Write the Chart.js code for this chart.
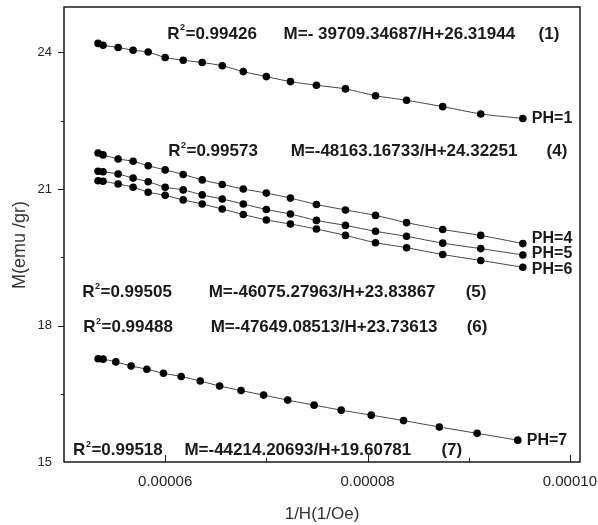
<!DOCTYPE html>
<html>
<head>
<meta charset="utf-8">
<script src="https://cdn.jsdelivr.net/npm/chart.js@4.4.1/dist/chart.umd.min.js"></script>
<style>
  html, body { margin: 0; padding: 0; background: #fff; }
  #wrap { width: 598px; height: 525px; }
</style>
</head>
<body>
<div id="wrap"><canvas id="mhChart" width="598" height="525"></canvas></div>
<script>
// 1/H (1/Oe) of each field step
const invH = [0.00005337, 0.00005386, 0.00005535, 0.00005683, 0.00005832, 0.00006000, 0.00006178,
    0.00006366, 0.00006564, 0.00006772, 0.00007000, 0.00007238, 0.00007495, 0.00007782,
    0.00008079, 0.00008386, 0.00008743, 0.00009119, 0.00009535];
// the PH=7 sample was measured at slightly different fields
const invH7 = [0.00005337, 0.00005386, 0.00005512, 0.00005663, 0.00005819, 0.00005983, 0.00006158,
    0.00006347, 0.00006538, 0.00006750, 0.00006973, 0.00007211, 0.00007472, 0.00007740,
    0.00008037, 0.00008356, 0.00008710, 0.00009083, 0.00009485];

// magnetisation M (emu/gr)
const magPH1 = [24.20, 24.16, 24.11, 24.05, 24.01, 23.89, 23.83, 23.78, 23.71, 23.58,
    23.47, 23.36, 23.28, 23.20, 23.05, 22.95, 22.81, 22.65, 22.55];
const magPH4 = [21.79, 21.75, 21.66, 21.61, 21.51, 21.42, 21.32, 21.20, 21.10, 21.00,
    20.91, 20.80, 20.66, 20.54, 20.42, 20.26, 20.11, 19.98, 19.80];
const magPH5 = [21.39, 21.38, 21.33, 21.24, 21.16, 21.04, 20.98, 20.87, 20.78, 20.67,
    20.55, 20.45, 20.31, 20.20, 20.07, 19.96, 19.81, 19.69, 19.55];
const magPH6 = [21.18, 21.17, 21.11, 21.04, 20.93, 20.86, 20.76, 20.67, 20.56, 20.44,
    20.32, 20.23, 20.12, 19.98, 19.82, 19.71, 19.56, 19.43, 19.28];
const magPH7 = [17.27, 17.26, 17.20, 17.11, 17.04, 16.95, 16.88, 16.78, 16.67, 16.57,
    16.47, 16.36, 16.25, 16.14, 16.03, 15.91, 15.77, 15.63, 15.48];

const phLabels = ['PH=1', 'PH=4', 'PH=5', 'PH=6', 'PH=7'];

// linear fits M = a/H + b
const r2Values = ['0.99426', '0.99573', '0.99505', '0.99488', '0.99518'];
const fitEquations = ['M=- 39709.34687/H+26.31944', 'M=-48163.16733/H+24.32251',
    'M=-46075.27963/H+23.83867', 'M=-47649.08513/H+23.73613', 'M=-44214.20693/H+19.60781'];
const fitTags = ['(1)', '(4)', '(5)', '(6)', '(7)'];

// where each fit note sits, in axis units
const noteSpots = [
    { r2X: 0.0000602, eqX: 0.0000717, tagX: 0.0000969, y: 24.41 },
    { r2X: 0.0000603, eqX: 0.0000724, tagX: 0.0000977, y: 21.82 },
    { r2X: 0.0000518, eqX: 0.0000643, tagX: 0.0000897, y: 18.73 },
    { r2X: 0.0000519, eqX: 0.0000645, tagX: 0.0000898, y: 17.96 },
    { r2X: 0.0000509, eqX: 0.0000619, tagX: 0.0000873, y: 15.26 }
];
// small vertical nudges so the PH tags don't collide
const tagNudge = [0, -5, -1, 2, 0];

const FONT = '"Liberation Sans", Arial, sans-serif';

const series = [
    { x: invH, y: magPH1 },
    { x: invH, y: magPH4 },
    { x: invH, y: magPH5 },
    { x: invH, y: magPH6 },
    { x: invH7, y: magPH7 }
];

const isStep = (v, step) => Math.abs(v / step - Math.round(v / step)) < 1e-6;

const annotatePlugin = {
    id: 'annotate',
    afterDraw(chart) {
        const ctx = chart.ctx;
        const area = chart.chartArea;
        const xs = chart.scales.x;
        const ys = chart.scales.y;
        ctx.save();
        ctx.strokeStyle = '#1a1a1a';
        ctx.fillStyle = '#1a1a1a';

        // frame
        ctx.lineWidth = 1.5;
        ctx.strokeRect(area.left, area.top, area.right - area.left, area.bottom - area.top);

        // x ticks point into the plot
        ctx.lineWidth = 1;
        xs.ticks.forEach(t => {
            if (t.value <= xs.min + 1e-9 || t.value >= xs.max - 1e-9) return;
            const px = Math.round(xs.getPixelForValue(t.value)) + 0.5;
            const len = isStep(t.value, 0.00002) ? 7 : 4;
            ctx.beginPath();
            ctx.moveTo(px, area.bottom);
            ctx.lineTo(px, area.bottom - len);
            ctx.stroke();
        });
        // y ticks point outwards
        ys.ticks.forEach(t => {
            if (t.value <= ys.min || t.value >= ys.max) return;
            const py = Math.round(ys.getPixelForValue(t.value)) + 0.5;
            const len = isStep(t.value, 3) ? 6 : 3;
            ctx.beginPath();
            ctx.moveTo(area.left, py);
            ctx.lineTo(area.left - len, py);
            ctx.stroke();
        });

        // y axis title
        ctx.save();
        ctx.translate(20, 245);
        ctx.rotate(-Math.PI / 2);
        ctx.font = '18px ' + FONT;
        ctx.fillStyle = '#333';
        ctx.textAlign = 'center';
        ctx.textBaseline = 'middle';
        ctx.fillText('M(emu /gr)', 0, 0);
        ctx.restore();

        // fit notes
        ctx.textBaseline = 'middle';
        ctx.textAlign = 'left';
        noteSpots.forEach((s, i) => {
            const py = ys.getPixelForValue(s.y);
            let px = xs.getPixelForValue(s.r2X);
            ctx.font = 'bold 17px ' + FONT;
            ctx.fillText('R', px, py);
            const rw = ctx.measureText('R').width;
            ctx.font = 'bold 9px ' + FONT;
            ctx.fillText('2', px + rw + 0.5, py - 6);
            ctx.font = 'bold 17px ' + FONT;
            ctx.fillText('=' + r2Values[i], px + rw + 6, py);
            ctx.fillText(fitEquations[i], xs.getPixelForValue(s.eqX), py);
            ctx.fillText(fitTags[i], xs.getPixelForValue(s.tagX), py);
        });

        // PH tags next to the last point of each curve
        ctx.font = 'bold 16px ' + FONT;
        chart.data.datasets.forEach((ds, i) => {
            const last = ds.data[ds.data.length - 1];
            const px = xs.getPixelForValue(last.x) + 9;
            const py = ys.getPixelForValue(last.y) + tagNudge[i];
            ctx.fillText(phLabels[i], px, py);
        });
        ctx.restore();
    }
};

const ctx = document.getElementById('mhChart').getContext('2d');
new Chart(ctx, {
    type: 'scatter',
    data: {
        datasets: series.map((s, i) => ({
            label: phLabels[i],
            data: s.x.map((x, k) => ({ x: x, y: s.y[k] })),
            showLine: true,
            borderColor: '#444',
            borderWidth: 1,
            tension: 0.25,
            pointRadius: 3.8,
            pointBackgroundColor: '#000',
            pointBorderColor: '#000',
            pointBorderWidth: 0
        }))
    },
    options: {
        responsive: false,
        animation: false,
        layout: { padding: { left: 0, top: 7, right: 18, bottom: 0 } },
        scales: {
            x: {
                type: 'linear',
                min: 0.00005,
                max: 0.000101,
                afterFit: scale => {
                    scale.height = 63;
                    // let the last label hang past the plot edge
                    scale.paddingLeft = 0;
                    scale.paddingRight = 0;
                },
                grid: { display: false, drawTicks: false },
                border: { display: false },
                ticks: {
                    stepSize: 0.00001,
                    includeBounds: false,
                    autoSkip: false,
                    maxRotation: 0,
                    padding: 11,
                    color: '#222',
                    font: { family: FONT, size: 15 },
                    callback: v => (isStep(v, 0.00002) && v > 0.000055) ? v.toFixed(5) : ''
                },
                title: {
                    display: true,
                    text: '1/H(1/Oe)',
                    color: '#333',
                    font: { family: FONT, size: 17 },
                    padding: { top: 0, bottom: 0 }
                }
            },
            y: {
                min: 15,
                max: 25,
                afterFit: scale => {
                    scale.width = 64;
                    scale.paddingTop = 0;
                    scale.paddingBottom = 0;
                },
                grid: { display: false, drawTicks: false },
                border: { display: false },
                ticks: {
                    stepSize: 1.5,
                    autoSkip: false,
                    padding: 12,
                    color: '#222',
                    font: { family: FONT, size: 13 },
                    callback: v => isStep(v, 3) ? String(v) : ''
                }
            }
        },
        plugins: {
            legend: { display: false },
            tooltip: { enabled: false }
        }
    },
    plugins: [annotatePlugin]
});
</script>
</body>
</html>
